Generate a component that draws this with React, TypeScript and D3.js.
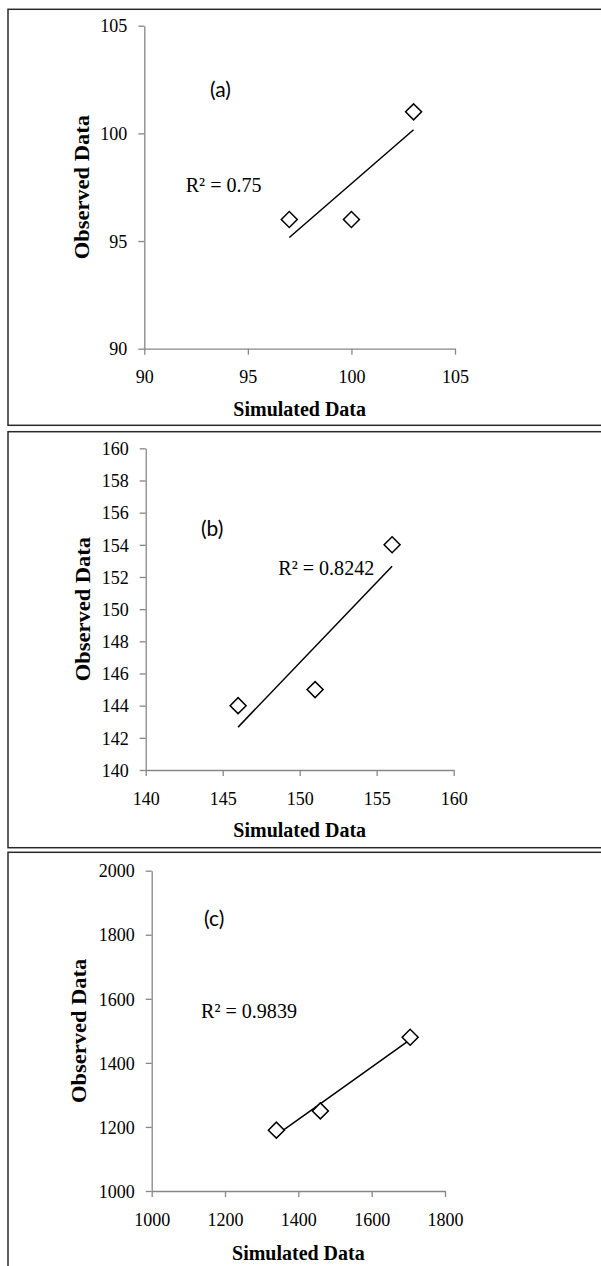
import React, { useEffect, useRef } from "react";
import * as d3 from "d3";

// ---- data ----
const simA = [97, 100, 103];
const obsA = [96, 96, 101];
const ticksA = [90, 95, 100, 105];
const r2A = "R² = 0.75";
const tagA = "(a)";

const simB = [146, 151, 156];
const obsB = [144, 145, 154];
const xTicksB = [140, 145, 150, 155, 160];
const yTicksB = [140, 142, 144, 146, 148, 150, 152, 154, 156, 158, 160];
const r2B = "R² = 0.8242";
const tagB = "(b)";

const simC = [1340, 1460, 1705];
const obsC = [1190, 1250, 1480];
const xTicksC = [1000, 1200, 1400, 1600, 1800];
const yTicksC = [1000, 1200, 1400, 1600, 1800, 2000];
const r2C = "R² = 0.9839";
const tagC = "(c)";

const xTitle = "Simulated Data";
const yTitle = "Observed Data";

type Panel = {
  sim: number[];
  obs: number[];
  xTicks: number[];
  yTicks: number[];
  r2: string;
  tag: string;
  xr: [number, number];
  yr: [number, number];
  box: [number, number];
  yTitleX: number;
  xTitleY: number;
  r2Pos: [number, number];
  tagPos: [number, number];
};

const panels: Panel[] = [
  {
    sim: simA, obs: obsA, xTicks: ticksA, yTicks: ticksA, r2: r2A, tag: tagA,
    xr: [144.3, 455], yr: [348.7, 25.7], box: [9.3, 425.3],
    yTitleX: 89, xTitleY: 416, r2Pos: [185.7, 192], tagPos: [210, 97],
  },
  {
    sim: simB, obs: obsB, xTicks: xTicksB, yTicks: yTicksB, r2: r2B, tag: tagB,
    xr: [145.7, 453.7], yr: [770, 448.3], box: [431.7, 847.7],
    yTitleX: 90, xTitleY: 836.5, r2Pos: [278.3, 575], tagPos: [201, 536],
  },
  {
    sim: simC, obs: obsC, xTicks: xTicksC, yTicks: yTicksC, r2: r2C, tag: tagC,
    xr: [151.7, 445], yr: [1191, 870.7], box: [852.3, 1300],
    yTitleX: 86, xTitleY: 1260, r2Pos: [201, 1018], tagPos: [204, 926],
  },
];

const SERIF = "'Liberation Serif', 'Times New Roman', serif";
const SX = 0.93;

export default function App() {
  const ref = useRef<SVGSVGElement>(null);
  useEffect(() => {
    const svg = d3.select(ref.current);
    svg.selectAll("*").remove();
    panels.forEach((p) => {
      const g = svg.append("g");
      g.append("rect")
        .attr("x", 8).attr("y", p.box[0])
        .attr("width", 620).attr("height", p.box[1] - p.box[0])
        .attr("fill", "none").attr("stroke", "#2a2a2a").attr("stroke-width", 1.5);

      const x = d3.scaleLinear()
        .domain([p.xTicks[0], p.xTicks[p.xTicks.length - 1]]).range(p.xr);
      const y = d3.scaleLinear()
        .domain([p.yTicks[0], p.yTicks[p.yTicks.length - 1]]).range(p.yr);

      const gx = g.append("g").attr("transform", `translate(0,${p.yr[0]})`)
        .call(d3.axisBottom(x).tickValues(p.xTicks).tickSize(6).tickSizeOuter(0).tickPadding(15).tickFormat(d3.format("d")));
      const gy = g.append("g").attr("transform", `translate(${p.xr[0]},0)`)
        .call(d3.axisLeft(y).tickValues(p.yTicks).tickSize(6).tickSizeOuter(0).tickPadding(11).tickFormat(d3.format("d")));
      [gx, gy].forEach((a) => {
        a.select(".domain").attr("stroke", "#878787").attr("stroke-width", 1.3);
        a.selectAll(".tick line").attr("stroke", "#878787").attr("stroke-width", 1.3);
        a.selectAll(".tick text")
          .attr("fill", "#000")
          .style("font-family", SERIF)
          .style("font-size", "19.4px");
      });
      gx.selectAll(".tick text").attr("transform", `scale(${SX},1)`);
      gy.selectAll(".tick text").attr("x", 0).attr("transform", `translate(-17,0) scale(${SX},1)`);

      // least-squares trendline
      const mx = d3.mean(p.sim)!;
      const my = d3.mean(p.obs)!;
      const sxy = d3.sum(p.sim.map((v, i) => (v - mx) * (p.obs[i] - my)));
      const sxx = d3.sum(p.sim.map((v) => (v - mx) * (v - mx)));
      const b = sxy / sxx;
      const a0 = my - b * mx;
      const [x0, x1] = d3.extent(p.sim) as [number, number];
      const line = d3.line<number>().x((v) => x(v)).y((v) => y(a0 + b * v));
      g.append("path").attr("d", line([x0, x1])).attr("stroke", "#000")
        .attr("stroke-width", 1.5).attr("fill", "none");

      const sym = d3.symbol().type(d3.symbolSquare).size(128);
      g.selectAll(".pt").data(p.sim).enter().append("path")
        .attr("d", sym()!)
        .attr("transform", (v, i) => `translate(${x(v)},${y(p.obs[i])}) rotate(45)`)
        .attr("fill", "#fff").attr("stroke", "#000").attr("stroke-width", 1.5);

      g.append("text")
        .attr("transform", `translate(${p.r2Pos[0]},${p.r2Pos[1]}) scale(${SX},1)`)
        .style("font-family", SERIF)
        .style("font-size", "21.6px").attr("fill", "#000").text(p.r2);

      g.append("text").attr("x", p.tagPos[0]).attr("y", p.tagPos[1])
        .style("font-family", "Lato, 'Open Sans', sans-serif")
        .style("font-size", "21px").attr("fill", "#000").text(p.tag);

      g.append("text")
        .attr("transform", `translate(${(p.xr[0] + p.xr[1]) / 2},${p.xTitleY}) scale(${SX},1)`)
        .attr("text-anchor", "middle")
        .style("font-family", SERIF)
        .style("font-size", "21.5px").style("font-weight", "bold").attr("fill", "#000")
        .text(xTitle);

      g.append("text")
        .attr("transform", `translate(${p.yTitleX},${(p.yr[0] + p.yr[1]) / 2}) rotate(-90) scale(1,${SX})`)
        .attr("text-anchor", "middle")
        .style("font-family", SERIF)
        .style("font-size", "22.5px").style("font-weight", "bold").attr("fill", "#000")
        .text(yTitle);
    });
  }, []);
  return (
    <svg
      ref={ref}
      width={601}
      height={1266}
      style={{ position: "absolute", left: 0, top: 0, background: "#fff" }}
    />
  );
}
